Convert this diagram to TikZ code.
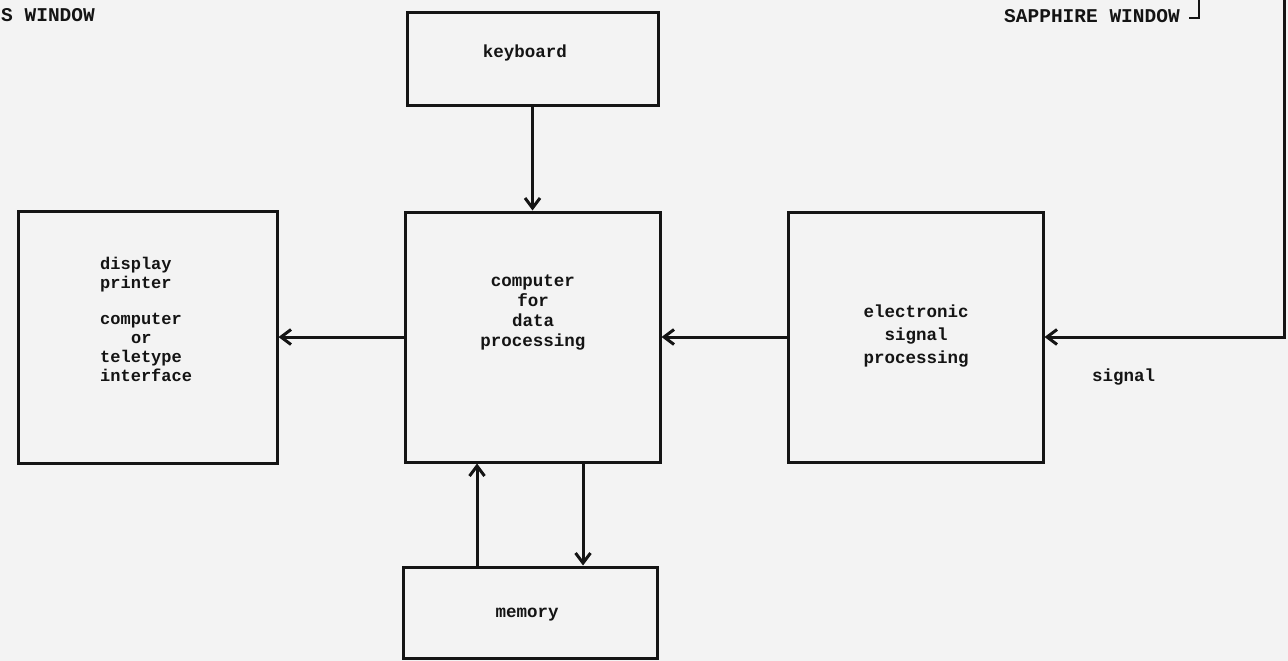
\documentclass[tikz,border=0pt]{standalone}
\usepackage{fontspec}
\newfontfamily\tw{Liberation Mono}
\usetikzlibrary{arrows.meta}
\definecolor{paper}{RGB}{243,243,243}
\definecolor{ink}{RGB}{20,20,20}
\tikzset{
  box/.style={draw=ink, line width=3pt, inner sep=0pt},
  txt/.style={text=ink, inner sep=0pt, font=\tw\bfseries\fontsize{17.5}{20}\selectfont},
  wincap/.style={text=ink, inner sep=0pt, font=\tw\bfseries\fontsize{19.5}{20}\selectfont},
  arr/.style={draw=ink, line width=3pt, -{Straight Barb[length=10pt,width=15pt,line width=3pt]}},
  tick/.style={draw=ink, line width=2.2pt}
}
\begin{document}
\begin{tikzpicture}[x=1pt,y=-1pt]
\useasboundingbox[fill=paper] (0,0) rectangle (1288,661);
% boxes
\node[box, minimum width=251pt, minimum height=93pt] (keyboard) at (532.5,59) {};
\node[box, minimum width=255pt, minimum height=250pt] (computer) at (532.5,337) {};
\node[box, minimum width=259pt, minimum height=252pt] (display) at (147.5,337) {};
\node[box, minimum width=255pt, minimum height=250pt] (electronic) at (915.5,337) {};
\node[box, minimum width=254pt, minimum height=91pt] (memory) at (530,612.5) {};
% texts
\node[txt] (tkeyboard) at (525,53) {keyboard};
\node[txt, align=center, font=\tw\bfseries\fontsize{17.5}{20}\selectfont] (tcomputer) at (533,313) {computer\\for\\data\\processing};
\node[txt, align=left, anchor=west, font=\tw\bfseries\fontsize{17}{19}\selectfont] (tdisplay) at (100,319) {display\\printer\\[17pt]computer\\\hspace*{31pt}or\\teletype\\interface};
\node[txt, align=center, font=\tw\bfseries\fontsize{17.5}{23}\selectfont] (telectronic) at (916,336) {electronic\\signal\\processing};
\node[txt] (tmemory) at (527,615) {memory};
\node[txt, anchor=west] (tsignal) at (1092,377) {signal};
\node[wincap, anchor=west] (wright) at (1004,16) {SAPPHIRE WINDOW};
\node[wincap, anchor=west] (wleft) at (1,15) {S WINDOW};
% connectors
\draw[arr] (keyboard.south) -- (computer.north);
\draw[arr] (computer.west) -- (display.east);
\draw[arr] (electronic.west) -- (computer.east);
\draw[arr] ([xshift=-53pt]memory.north) -- ([xshift=-53pt]memory.north |- computer.south);
\draw[arr] ([xshift=53pt]memory.north |- computer.south) -- ([xshift=53pt]memory.north);
\coordinate (wtop) at (1284,0);
\draw[arr] (wtop) |- (electronic.east);
\coordinate (d1) at (1189,18);
\coordinate (d2) at (1199,18);
\coordinate (d3) at (1199,0);
\draw[tick] (d1) -- (d2) -- (d3);
\end{tikzpicture}
\end{document}
